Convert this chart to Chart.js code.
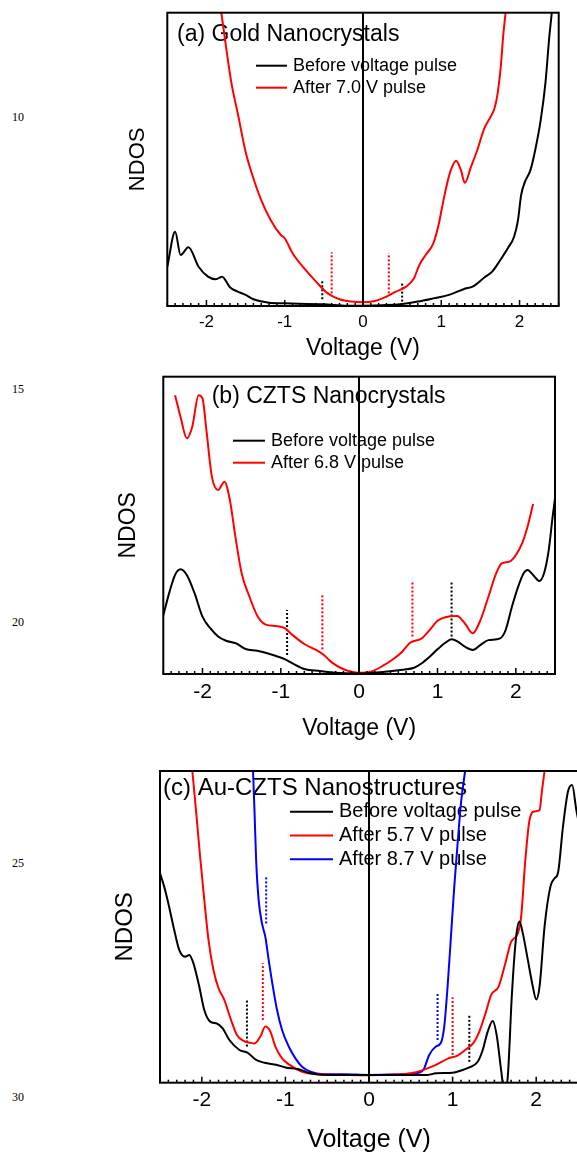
<!DOCTYPE html>
<html>
<head>
<meta charset="utf-8">
<script src="https://cdn.jsdelivr.net/npm/chart.js@4"></script>
<style>
  body { margin: 0; width: 577px; height: 1153px; overflow: hidden; background: #fff; position: relative; }
  canvas { position: absolute; left: 0; }
  .lineno { position: absolute; left: 12px; font: 12px "Liberation Serif", "Times New Roman", serif; line-height: 12px; color: #000; }
</style>
</head>
<body>
<div class="lineno" style="top:111px">10</div>
<div class="lineno" style="top:383px">15</div>
<div class="lineno" style="top:616px">20</div>
<div class="lineno" style="top:857px">25</div>
<div class="lineno" style="top:1091px">30</div>

<canvas id="chartA" width="577" height="370" style="top:0px"></canvas>
<canvas id="chartB" width="577" height="390" style="top:370px"></canvas>
<canvas id="chartC" width="600" height="420" style="top:760px"></canvas>

<script>
// (a) Gold nanocrystals
const goldBeforeV = [-2.5, -2.4, -2.33, -2.23, -2.1, -1.98, -1.88, -1.8, -1.7, -1.6, -1.5, -1.4, -1.2, -1.0, -0.5, -0.2, 0, 0.3, 0.5, 0.7, 0.9, 1.1, 1.3, 1.4, 1.55, 1.65, 1.75, 1.85, 1.93, 1.98, 2.02, 2.07, 2.14, 2.2, 2.27, 2.33, 2.38, 2.42];
const goldBeforeN = [13.4, 25.3, 17.4, 20, 13.4, 10, 9.1, 10, 6.4, 4.9, 3.8, 2.3, 1.1, 0.9, 0.6, 0.1, 0.1, 0.3, 0.7, 1.5, 2.6, 3.8, 5.9, 6.6, 9.7, 11.7, 15.5, 19.7, 23.6, 29.3, 37.8, 42.4, 46.4, 53.2, 63.4, 75.9, 91.8, 102];
const goldAfterV = [-1.82, -1.75, -1.68, -1.6, -1.5, -1.42, -1.3, -1.18, -1.05, -1.0, -0.9, -0.75, -0.6, -0.45, -0.3, -0.15, 0, 0.15, 0.3, 0.42, 0.55, 0.65, 0.72, 0.8, 0.9, 0.97, 1.02, 1.08, 1.13, 1.19, 1.25, 1.3, 1.38, 1.46, 1.55, 1.63, 1.68, 1.72, 1.76, 1.79, 1.83];
const goldAfterN = [102, 88.4, 75.9, 65.7, 52.6, 45.2, 36.1, 29.3, 24.2, 23.1, 18, 12.8, 8.3, 4.3, 2.3, 1.5, 1.25, 1.7, 3.2, 4.9, 6.6, 9.4, 14, 17.4, 21.4, 28.2, 35, 42.4, 46.9, 49.5, 46.4, 42, 47.5, 53.2, 60.6, 64.5, 67.4, 72.5, 81.6, 91.8, 102];
// band-edge markers: [voltage, low, high]
const goldBeforeMarks = [[-0.52, 2.3, 9.1], [0.5, 1.5, 8.3]];
const goldAfterMarks = [[-0.4, 4.3, 18.3], [0.33, 4.3, 18]];

// (b) CZTS nanocrystals
const cztsBeforeV = [-2.5, -2.42, -2.35, -2.28, -2.2, -2.1, -2.0, -1.9, -1.8, -1.7, -1.57, -1.45, -1.3, -1.1, -0.95, -0.85, -0.7, -0.5, -0.3, 0, 0.3, 0.5, 0.7, 0.8, 0.9, 1.0, 1.1, 1.18, 1.26, 1.35, 1.45, 1.55, 1.65, 1.8, 1.87, 1.95, 2.03, 2.1, 2.15, 2.22, 2.3, 2.36, 2.42, 2.47, 2.5];
const cztsBeforeN = [19.8, 27.7, 33.3, 35.2, 33.3, 27.1, 19.3, 15.4, 12.6, 11.2, 10.3, 8.4, 7.8, 6.4, 5.0, 3.6, 1.7, 1.0, 0.4, 0.2, 0.7, 1.3, 2.1, 3.6, 5.8, 8.3, 10.5, 11.7, 10.9, 9.2, 8.1, 9.8, 11.4, 12, 14.8, 22.6, 29.4, 33.9, 35, 33.3, 31.3, 33.9, 41.7, 52.9, 59.1];
const cztsAfterV = [-2.35, -2.28, -2.2, -2.13, -2.05, -2.0, -1.95, -1.88, -1.8, -1.72, -1.65, -1.58, -1.5, -1.4, -1.3, -1.2, -1.05, -0.95, -0.85, -0.7, -0.55, -0.45, -0.35, -0.2, 0, 0.15, 0.3, 0.45, 0.55, 0.65, 0.8, 0.9, 1.0, 1.1, 1.25, 1.35, 1.45, 1.55, 1.65, 1.75, 1.82, 1.92, 2.0, 2.08, 2.15, 2.22];
const cztsAfterN = [93.8, 86.5, 79.3, 83.2, 93.8, 92.7, 82.1, 66.4, 61.9, 64.7, 58.5, 46.2, 33.9, 26, 19.6, 16.7, 16.1, 15.4, 13.1, 10.1, 8.1, 6.4, 3.9, 1.6, 0.4, 0.8, 2.7, 5.3, 7.5, 10.5, 12, 14.8, 17.9, 19.1, 19.5, 17, 13.7, 18.2, 26, 33.9, 37.2, 37.8, 40, 43.9, 49.6, 57.2];
const cztsBeforeMarks = [[-0.92, 6.4, 21.5], [1.18, 12.6, 31.4]];
const cztsAfterMarks = [[-0.47, 8.3, 26.9], [0.68, 12.6, 31.4]];

// (c) Au-CZTS nanostructures
const auBeforeV = [-2.5, -2.45, -2.4, -2.33, -2.27, -2.2, -2.15, -2.1, -2.03, -1.97, -1.9, -1.82, -1.75, -1.67, -1.55, -1.45, -1.35, -1.25, -1.1, -1.0, -0.85, -0.7, -0.5, 0, 0.5, 0.7, 0.8, 1.0, 1.1, 1.2, 1.3, 1.36, 1.42, 1.48, 1.53, 1.58, 1.62, 1.66, 1.71, 1.76, 1.8, 1.84, 1.9, 1.96, 2.0, 2.04, 2.1, 2.17, 2.22, 2.26, 2.32, 2.38, 2.43, 2.48, 2.52];
const auBeforeN = [67.2, 62.9, 57.5, 49, 42.6, 40.4, 41, 38.3, 30.8, 23.3, 19.6, 19, 17.4, 13.7, 10.5, 9.6, 7.3, 6.4, 5.7, 4.9, 4.4, 3, 2.5, 2.5, 2.5, 2.5, 3, 3.2, 3.9, 4.9, 6.7, 10.5, 16.4, 19.8, 14.8, 4.1, -3, 1.9, 28.7, 46.8, 51.7, 47.9, 39.4, 30.8, 26.7, 30.8, 50.1, 62.9, 65.6, 67.2, 82.1, 93.4, 95.5, 87.5, 82];
const au57V = [-2.12, -2.07, -2.02, -1.97, -1.92, -1.86, -1.8, -1.73, -1.65, -1.58, -1.5, -1.42, -1.37, -1.3, -1.24, -1.18, -1.12, -1.04, -0.95, -0.8, -0.6, -0.3, 0, 0.3, 0.5, 0.65, 0.8, 0.95, 1.05, 1.15, 1.25, 1.32, 1.4, 1.46, 1.55, 1.62, 1.7, 1.78, 1.82, 1.87, 1.92, 1.98, 2.04, 2.07, 2.11];
const au57N = [102, 87.5, 72.5, 58.6, 45.8, 36.1, 30.3, 26.5, 20.1, 15.3, 13.4, 12.8, 12.6, 14.8, 18, 16.4, 11.6, 7.8, 5.7, 3.5, 2.7, 2.5, 2.4, 2.6, 3, 4.1, 5.7, 7.8, 8.6, 10.5, 12.8, 16.4, 22.8, 28.1, 30.8, 37.2, 45.2, 47.9, 53.3, 71.4, 84.3, 87, 87.5, 93.9, 102];
const au87V = [-1.39, -1.37, -1.35, -1.32, -1.28, -1.24, -1.2, -1.15, -1.1, -1.04, -0.96, -0.88, -0.8, -0.7, -0.55, -0.3, 0, 0.3, 0.55, 0.65, 0.72, 0.8, 0.86, 0.9, 0.94, 0.98, 1.02, 1.06, 1.1, 1.16];
const au87N = [102, 87.5, 71.4, 58.6, 51.1, 46.8, 39.4, 30.8, 23.3, 16.9, 11.6, 7.8, 5.1, 3.5, 2.7, 2.7, 2.5, 2.6, 3, 4.1, 8.9, 11.6, 12.8, 18, 30.8, 46.8, 62.9, 76.8, 89.6, 102];
const auBeforeMarks = [[-1.46, 11.6, 26.5], [1.2, 6.7, 21.7]];
const au57Marks = [[-1.27, 20.1, 38.3], [1.0, 8.9, 27.4]];
const au87Marks = [[-1.23, 51.1, 66.3], [0.82, 13.7, 29]];

const voltRange = [-2.5, 2.5];
const voltTicks = [-2, -1, 0, 1, 2];
const ndosRange = [0, 100];

Chart.defaults.font.family = '"Liberation Sans", Arial, sans-serif';
Chart.defaults.color = '#000';

function curve(label, xs, ys, color) {
    return {
        label: label,
        data: xs.map((x, i) => ({x: x, y: ys[i]})),
        borderColor: color,
        backgroundColor: color,
        borderWidth: 2,
        pointRadius: 0,
        cubicInterpolationMode: 'monotone',
        fill: false,
        order: 1,
    };
}

function marks(list, color) {
    return list.map(m => ({
        label: '',
        mark: true,
        data: [{x: m[0], y: m[1]}, {x: m[0], y: m[2]}],
        borderColor: color,
        borderWidth: 2,
        borderDash: [2, 2],
        pointRadius: 0,
        fill: false,
        order: 2,
    }));
}

// frame, inward ticks, panel title and legend
const decor = {
    id: 'decor',
    beforeDatasetsDraw(chart, args, opts) {
        const {ctx, chartArea: a} = chart;
        ctx.save();
        ctx.fillStyle = '#000';
        ctx.textBaseline = 'middle';
        ctx.font = opts.titleSize + 'px "Liberation Sans", Arial, sans-serif';
        ctx.fillText(opts.title, a.left + opts.titleX, a.top + opts.titleY);
        ctx.font = opts.legendSize + 'px "Liberation Sans", Arial, sans-serif';
        chart.data.datasets.filter(d => !d.mark).forEach((d, i) => {
            const y = a.top + opts.legendY + i * opts.legendGap;
            ctx.strokeStyle = d.borderColor;
            ctx.lineWidth = 2;
            ctx.beginPath();
            ctx.moveTo(a.left + opts.legendX, y);
            ctx.lineTo(a.left + opts.legendX + opts.legendLen, y);
            ctx.stroke();
            ctx.fillText(d.label, a.left + opts.legendX + opts.legendLen + 6, y);
        });
        ctx.restore();
    },
    afterDatasetsDraw(chart) {
        const {ctx, chartArea: a, scales: {x}} = chart;
        ctx.save();
        ctx.strokeStyle = '#000';
        ctx.lineWidth = 1.5;
        for (let i = -25; i <= 25; i++) {
            const px = x.getPixelForValue(i / 10);
            const len = i % 10 === 0 ? 6 : 3;
            ctx.beginPath();
            ctx.moveTo(px, a.bottom);
            ctx.lineTo(px, a.bottom - len);
            ctx.stroke();
        }
        ctx.lineWidth = 2;
        ctx.strokeRect(a.left, a.top, a.right - a.left, a.bottom - a.top);
        ctx.restore();
    }
};

function makePanel(id, datasets, L) {
    return new Chart(document.getElementById(id), {
        type: 'line',
        data: {datasets: datasets},
        options: {
            responsive: false,
            animation: false,
            layout: {padding: {top: L.padTop, right: L.padRight, bottom: 0, left: 0}},
            plugins: {
                legend: {display: false},
                tooltip: {enabled: false},
                decor: L.decor,
            },
            scales: {
                x: {
                    type: 'linear',
                    min: voltRange[0],
                    max: voltRange[1],
                    afterBuildTicks: s => { s.ticks = voltTicks.map(v => ({value: v})); },
                    afterFit: s => { s.height = L.axisH; },
                    border: {display: false},
                    grid: {
                        drawTicks: false,
                        lineWidth: 2,
                        color: c => c.tick && c.tick.value === 0 ? '#000' : 'rgba(0,0,0,0)',
                    },
                    ticks: {
                        autoSkip: false,
                        maxRotation: 0,
                        padding: L.tickPad,
                        color: '#000',
                        font: {size: L.tickSize},
                    },
                    title: {
                        display: true,
                        text: 'Voltage (V)',
                        color: '#000',
                        font: {size: L.xTitleSize},
                        padding: {top: 0, bottom: L.xTitleBottom},
                    },
                },
                y: {
                    min: ndosRange[0],
                    max: ndosRange[1],
                    afterFit: s => { s.width = L.axisW; },
                    border: {display: false},
                    grid: {display: false, drawTicks: false},
                    ticks: {display: false},
                    title: {
                        display: true,
                        text: 'NDOS',
                        color: '#000',
                        font: {size: L.yTitleSize},
                        padding: {top: L.yTitlePad, bottom: 0},
                    },
                },
            },
        },
        plugins: [decor],
    });
}

const chartA = makePanel('chartA', [
    curve('Before voltage pulse', goldBeforeV, goldBeforeN, '#000000'),
    curve('After 7.0 V pulse', goldAfterV, goldAfterN, '#ff0000'),
    ...marks(goldBeforeMarks, '#000000'),
    ...marks(goldAfterMarks, '#ff0000'),
], {
    padTop: 12.7, padRight: 18.3, axisH: 64, axisW: 167.3,
    tickPad: 6.5, tickSize: 17, xTitleSize: 23, xTitleBottom: 7.2,
    yTitleSize: 22, yTitlePad: 124.3,
    decor: {title: '(a) Gold Nanocrystals', titleSize: 23, titleX: 9.7, titleY: 22.3,
            legendSize: 18, legendX: 88.7, legendLen: 31, legendY: 53, legendGap: 22},
});

const chartB = makePanel('chartB', [
    curve('Before voltage pulse', cztsBeforeV, cztsBeforeN, '#000000'),
    curve('After 6.8 V pulse', cztsAfterV, cztsAfterN, '#ff0000'),
    ...marks(cztsBeforeMarks, '#000000'),
    ...marks(cztsAfterMarks, '#ff0000'),
], {
    padTop: 6.7, padRight: 22, axisH: 86, axisW: 163.3,
    tickPad: 6.1, tickSize: 21, xTitleSize: 23, xTitleBottom: 17.2,
    yTitleSize: 23, yTitlePad: 115.2,
    decor: {title: '(b) CZTS Nanocrystals', titleSize: 23, titleX: 48.4, titleY: 20,
            legendSize: 18, legendX: 69.7, legendLen: 32, legendY: 64, legendGap: 22},
});

const chartC = makePanel('chartC', [
    curve('Before voltage pulse', auBeforeV, auBeforeN, '#000000'),
    curve('After 5.7 V pulse', au57V, au57N, '#ff0000'),
    curve('After 8.7 V pulse', au87V, au87N, '#0000ff'),
    ...marks(auBeforeMarks, '#000000'),
    ...marks(au57Marks, '#ff0000'),
    ...marks(au87Marks, '#0000ff'),
], {
    padTop: 11, padRight: 22, axisH: 97.3, axisW: 160,
    tickPad: 5.4, tickSize: 21, xTitleSize: 25, xTitleBottom: 25,
    yTitleSize: 24, yTitlePad: 111.1,
    decor: {title: '(c) Au-CZTS Nanostructures', titleSize: 24, titleX: 3, titleY: 17,
            legendSize: 20, legendX: 130, legendLen: 43, legendY: 40.7, legendGap: 23.8},
});
</script>
</body>
</html>
